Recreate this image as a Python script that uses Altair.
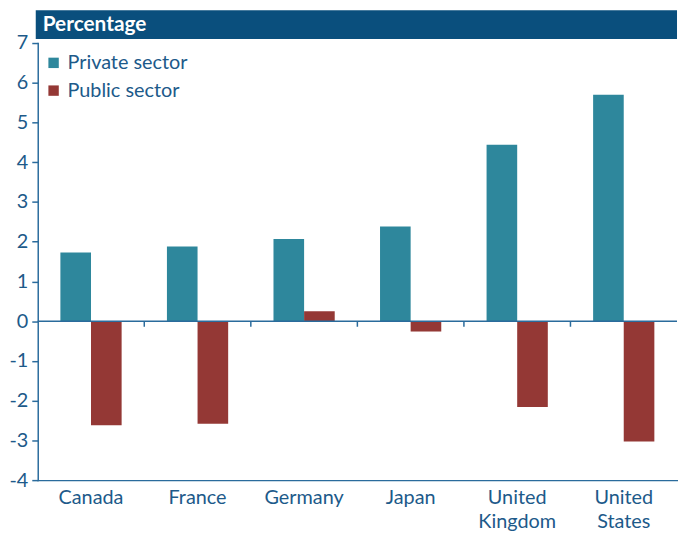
import altair as alt
import pandas as pd

countries = ["Canada", "France", "Germany", "Japan", "United Kingdom", "United States"]
private_sector = [1.73, 1.88, 2.07, 2.38, 4.44, 5.70]
public_sector = [-2.62, -2.58, 0.25, -0.26, -2.16, -3.03]
series = ["Private sector", "Public sector"]
colors = ["#2e879c", "#943835"]
y_ticks = list(range(-4, 8))

rows = []
for c, p, g in zip(countries, private_sector, public_sector):
    rows.append({"country": c, "sector": series[0], "value": p})
    rows.append({"country": c, "sector": series[1], "value": g})
df = pd.DataFrame(rows)

W, H = 645, 441
FONT = "Lato"
TXT = "#1d5a8a"
AX = "#2a6b9c"

xscale = alt.Scale(domain=countries, paddingInner=0, paddingOuter=0)

bars = alt.Chart(df).mark_bar().encode(
    x=alt.X("country:N", scale=xscale, sort=countries,
            axis=alt.Axis(title=None, labelAngle=0, ticks=False, labelFontSize=20,
                          labelFont=FONT, labelColor=TXT, domainColor=AX, domainWidth=1.5,
                          labelPadding=8, labelExpr="split(datum.label, ' ')",
                          labelLineHeight=24, labelBaseline="top")),
    xOffset=alt.XOffset("sector:N", sort=series,
                        scale=alt.Scale(paddingInner=0, paddingOuter=0.74)),
    y=alt.Y("value:Q", scale=alt.Scale(domain=[-4, 7], nice=False, zero=False),
            axis=alt.Axis(title=None, values=y_ticks, grid=False, labelFontSize=20,
                          labelFont=FONT, labelColor=TXT, domainColor=AX, domainWidth=1.5,
                          tickColor=AX, tickSize=6, tickWidth=1.5, labelPadding=4,
                          labelExpr="datum.value + ''")),
    color=alt.Color("sector:N", sort=series,
                    scale=alt.Scale(domain=series, range=colors),
                    legend=alt.Legend(title=None, orient="none", legendX=6, legendY=10,
                                      symbolType="square", symbolSize=110,
                                      symbolStrokeWidth=0, labelFontSize=20,
                                      labelFont=FONT, labelColor=TXT, rowPadding=8,
                                      labelOffset=4)),
)

zero_df = pd.DataFrame({"v": [0]})
zero_rule = alt.Chart(zero_df).mark_rule(color=AX, strokeWidth=1.5).encode(
    y="v:Q", x=alt.value(0), x2=alt.value(W))

bound_df = pd.DataFrame({"country": countries[1:], "y0": [0] * 5, "y1": [-0.14] * 5})
bound_ticks = alt.Chart(bound_df).mark_rule(color=AX, strokeWidth=1.5).encode(
    x=alt.X("country:N", scale=xscale, sort=countries, bandPosition=0),
    y="y0:Q", y2="y1:Q")

header = alt.Chart(zero_df).mark_rect(color="#0a4f7d").encode(
    x=alt.value(-2), x2=alt.value(W), y=alt.value(-33), y2=alt.value(-4))
header_text = alt.Chart(pd.DataFrame({"t": ["Percentage"]})).mark_text(
    color="white", font=FONT, fontWeight="bold", fontSize=21, align="left",
    baseline="middle").encode(text="t:N", x=alt.value(5), y=alt.value(-18))

chart = alt.layer(header, header_text, bars, zero_rule, bound_ticks).properties(
    width=W, height=H, padding={"left": 0, "top": 0, "right": 0, "bottom": 0}
).configure_view(stroke=None).configure_axis(domainCap="square")

chart.save("out.html", embed_options={"renderer": "svg", "actions": False})
